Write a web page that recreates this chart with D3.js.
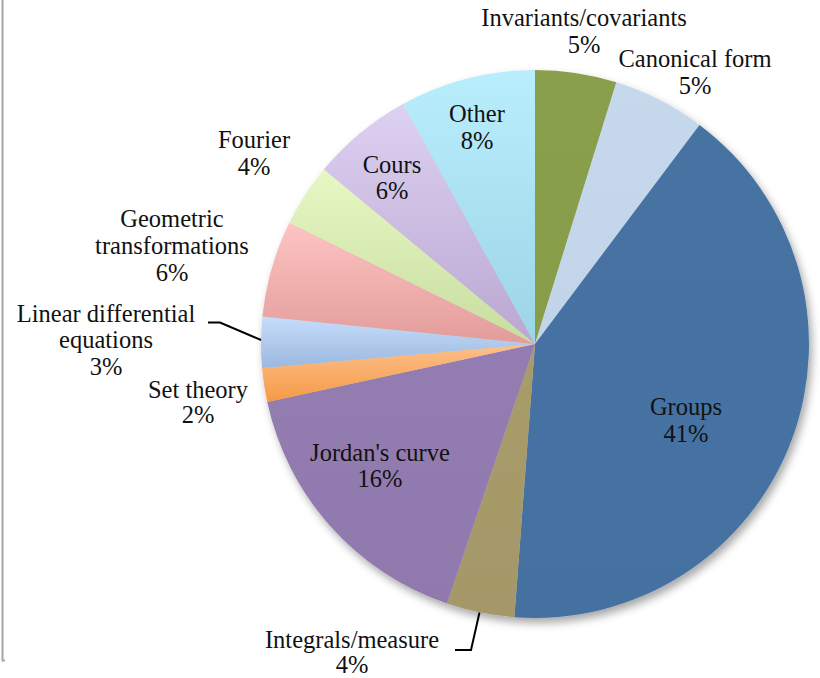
<!DOCTYPE html>
<html>
<head>
<meta charset="utf-8">
<script src="https://cdn.jsdelivr.net/npm/d3@7"></script>
<style>
  body { margin: 0; background: #fff; }
  .lbl { font-family: "Liberation Serif", serif; font-size: 24.5px; fill: #111; }
</style>
</head>
<body>
<div id="chart"></div>
<script>
var categories = ["Invariants/covariants", "Canonical form", "Groups", "Integrals/measure",
    "Jordan's curve", "Set theory", "Linear differential equations", "Geometric transformations",
    "Fourier", "Cours", "Other"];
var values = [4.8, 5.45, 40.95, 4.0, 16.4, 2.0, 3.0, 5.7, 3.7, 6.0, 8.0];
var pctLabels = ["5%", "5%", "41%", "4%", "16%", "2%", "3%", "6%", "4%", "6%", "8%"];

// top / bottom colour of each slice's gradient
var colTop = ["#8a9f4c", "#c6d8ec", "#4673a3", "#a89c6b", "#937cb1", "#fdc08c",
    "#c6ddfb", "#fdc4c3", "#e6f8c4", "#ddd1f1", "#b9eefc"];
var colBot = ["#889d49", "#c2d4e8", "#4571a1", "#a49868", "#9079ad", "#f59a45",
    "#9cb8df", "#e29c9a", "#c8dd9f", "#baa7d1", "#9cd5e7"];

// label lines and anchor (centre x, first baseline, line gap)
var labelLines = [["Invariants/covariants"], ["Canonical form"], ["Groups"], ["Integrals/measure"],
    ["Jordan's curve"], ["Set theory"], ["Linear differential", "equations"],
    ["Geometric", "transformations"], ["Fourier"], ["Cours"], ["Other"]];
var labelPos = [[584, 26, 27], [695, 66.5, 27], [686, 415, 27], [352, 647.5, 25], [380, 460.5, 26],
    [198, 398, 25], [106, 321.5, 26.8], [172, 226.5, 27], [254, 148, 26.8], [392, 173, 26.3],
    [477, 122, 27]];

var svgWidth = 820, svgHeight = 678;
var cx = 535, cy = 344, radius = 274;

var svg = d3.select("#chart").append("svg")
    .attr("width", svgWidth).attr("height", svgHeight);

var defs = svg.append("defs");
defs.append("filter").attr("id", "shadow")
    .attr("x", "-10%").attr("y", "-10%").attr("width", "125%").attr("height", "125%")
    .append("feDropShadow")
    .attr("dx", 3).attr("dy", 5).attr("stdDeviation", 4)
    .attr("flood-color", "#000").attr("flood-opacity", 0.35);

categories.forEach((c, i) => {
    var g = defs.append("linearGradient").attr("id", "grad" + i)
        .attr("x1", 0).attr("y1", 0).attr("x2", 0).attr("y2", 1);
    g.append("stop").attr("offset", "0%").attr("stop-color", colTop[i]);
    g.append("stop").attr("offset", "100%").attr("stop-color", colBot[i]);
});

// chart frame edge on the left
svg.append("path").attr("d", "M2.5,0 V660.5 H5")
    .attr("fill", "none").attr("stroke", "#a6a6a6").attr("stroke-width", 2);

var data = categories.map((c, i) => ({ name: c, value: values[i], idx: i }));

var pie = d3.pie().sort(null).value(d => d.value);
var arc = d3.arc().innerRadius(0).outerRadius(radius);

var pieGroup = svg.append("g")
    .attr("transform", `translate(${cx}, ${cy})`)
    .attr("filter", "url(#shadow)");

pieGroup.selectAll("path").data(pie(data)).enter().append("path")
    .attr("d", arc)
    .attr("fill", d => `url(#grad${d.data.idx})`);

// leader lines
var leaders = [
    [[479.5, 612.5], [471, 650], [455, 650]],
    [[261, 340], [220, 322.5], [208, 322.5]]
];
svg.selectAll(".leader").data(leaders).enter().append("path")
    .attr("class", "leader")
    .attr("d", d => d3.line()(d))
    .attr("fill", "none").attr("stroke", "#000").attr("stroke-width", 2);

// labels
var labels = svg.selectAll(".lbl").data(data).enter().append("text")
    .attr("class", "lbl")
    .attr("text-anchor", "middle")
    .attr("x", d => labelPos[d.idx][0])
    .attr("y", d => labelPos[d.idx][1]);

labels.each(function(d) {
    var t = d3.select(this);
    var p = labelPos[d.idx];
    var lines = labelLines[d.idx].concat([pctLabels[d.idx]]);
    lines.forEach((ln, k) => {
        t.append("tspan")
            .attr("x", p[0])
            .attr("dy", k === 0 ? 0 : p[2])
            .text(ln);
    });
});
</script>
</body>
</html>
